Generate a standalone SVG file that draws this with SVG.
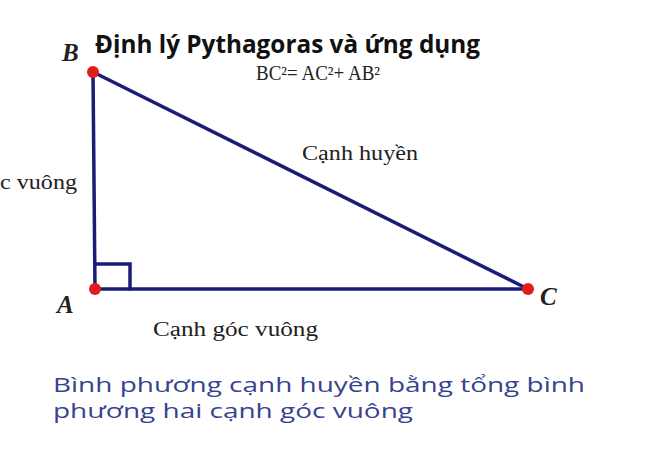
<svg xmlns="http://www.w3.org/2000/svg" width="660" height="450" viewBox="0 0 660 450">
<style>
.serif{font-family:"Liberation Serif",serif;font-size:20px;fill:#222}
.pt{font-family:"Liberation Serif",serif;font-style:italic;font-weight:bold;font-size:25px;fill:#222}
.edge{stroke:#1c1c78;stroke-width:3.5;fill:none;stroke-linecap:round}
.dot{fill:#e21b1b}
</style>
<rect width="660" height="450" fill="#fff"/>
<text x="95" y="53" font-family="'Open Sans','Liberation Sans',sans-serif" font-weight="bold" font-size="25" fill="#111" textLength="385" lengthAdjust="spacingAndGlyphs">Định lý Pythagoras và ứng dụng</text>
<g id="connectors">
<line class="edge" x1="93" y1="72" x2="95" y2="289"/>
<line class="edge" x1="95" y1="289" x2="528" y2="289"/>
<line class="edge" x1="93" y1="72" x2="528" y2="289"/>
<polyline class="edge" points="95,264 130,264 130,289" stroke-width="3"/>
</g>
<g id="B"><circle class="dot" cx="93" cy="72" r="6"/><text class="pt" x="62" y="61">B</text></g>
<g id="A"><circle class="dot" cx="95" cy="289" r="6"/><text class="pt" x="57" y="313">A</text></g>
<g id="C"><circle class="dot" cx="528" cy="289" r="6"/><text class="pt" x="540" y="305">C</text></g>
<text class="serif" x="256" y="80" font-size="19" textLength="124" lengthAdjust="spacingAndGlyphs">BC²= AC²+ AB²</text>
<text class="serif" x="0" y="189" textLength="77" lengthAdjust="spacingAndGlyphs">c vuông</text>
<text class="serif" x="302" y="160" textLength="116" lengthAdjust="spacingAndGlyphs">Cạnh huyền</text>
<text class="serif" x="153" y="336" textLength="165" lengthAdjust="spacingAndGlyphs">Cạnh góc vuông</text>
<g font-family="'Open Sans','Liberation Sans',sans-serif" font-size="20" fill="#36438f">
<text x="53" y="392" textLength="532" lengthAdjust="spacingAndGlyphs">Bình phương cạnh huyền bằng tổng bình</text>
<text x="53" y="418" textLength="360" lengthAdjust="spacingAndGlyphs">phương hai cạnh góc vuông</text>
</g>
</svg>
